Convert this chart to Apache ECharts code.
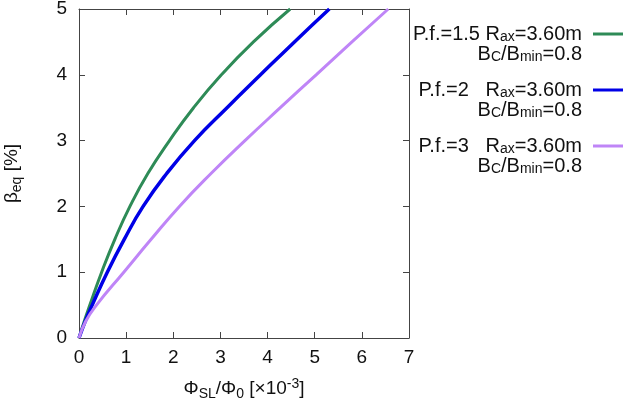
<!DOCTYPE html>
<html lang="en">
<head>
    <meta charset="UTF-8">
    <title>beta_eq vs flux</title>
    <script src="https://cdn.jsdelivr.net/npm/echarts@6/dist/echarts.min.js"></script>
    <style>
        html, body { margin: 0; padding: 0; background: #fff; }
    </style>
</head>
<body>
    <div id="main" style="width: 629px; height: 407px"></div>
    <script>
        // beta_eq [%] values where the curves were read
        var betaVals = [0, 0.25, 0.5, 1, 1.5, 2, 2.5, 3, 3.5, 4, 4.5, 5];
        // Phi_SL/Phi_0 [x1e-3] for each curve at those beta values
        var fluxPf15 = [0, 0.11, 0.23, 0.48, 0.76, 1.08, 1.46, 1.92, 2.43, 3.02, 3.70, 4.48];
        var fluxPf2  = [0, 0.13, 0.28, 0.60, 0.96, 1.36, 1.86, 2.45, 3.14, 3.85, 4.57, 5.31];
        var fluxPf3  = [0, 0.14, 0.37, 0.95, 1.53, 2.13, 2.80, 3.52, 4.27, 5.03, 5.79, 6.56];

        var pfNames = ['1.5', '2', '3'];
        var pfPad = ['1.5 ', '2   ', '3   '];
        var raxVal = '3.60m';
        var bRatio = '0.8';
        var colors = ['#2e8b57', '#0000e6', '#bf85f7'];
        var xTicks = [0, 1, 2, 3, 4, 5, 6, 7];
        var yTicks = [0, 1, 2, 3, 4, 5];

        var font = 'Liberation Sans, Arial, sans-serif';
        var mychart = echarts.init(document.getElementById('main'));

        function pairs(xs) {
            var d = [];
            for (var i = 0; i < xs.length; i++) d.push([xs[i], betaVals[i]]);
            return d;
        }

        var fluxSets = [fluxPf15, fluxPf2, fluxPf3];
        var series = fluxSets.map(function (xs, i) {
            return {
                name: 'P.f.=' + pfNames[i],
                type: 'line',
                data: pairs(xs),
                showSymbol: false,
                symbol: 'none',
                smooth: 0.5,
                lineStyle: { color: colors[i], width: i === 1 ? 3.5 : 3 },
                itemStyle: { color: colors[i] }
            };
        });

        var axisCol = '#444';
        function boxAxis(extra) {
            var a = {
                type: 'value',
                interval: 1,
                axisLine: { show: true, onZero: false, lineStyle: { color: axisCol, width: 1 } },
                axisTick: { show: true, inside: true, length: 6, lineStyle: { color: axisCol } },
                splitLine: { show: false },
                axisLabel: { color: '#111', fontSize: 19, fontFamily: font }
            };
            for (var k in extra) a[k] = extra[k];
            return a;
        }

        var legendIdx = {};
        pfNames.forEach(function (p, i) { legendIdx['P.f.=' + p] = i; });

        option = {
            animation: false,
            grid: { left: 79, right: 220, top: 9, bottom: 69, outerBoundsMode: 'none', containLabel: false },
            xAxis: [
                boxAxis({
                    min: xTicks[0], max: xTicks[xTicks.length - 1], position: 'bottom',
                    name: '{n|Φ}{s|SL}{n|/Φ}{s|0}{n| [×10}{p|-3}{n|]}',
                    nameLocation: 'middle', nameGap: 39,
                    nameTextStyle: {
                        rich: {
                            n: { fontSize: 19, fontFamily: font, color: '#111', lineHeight: 24 },
                            s: { fontSize: 14, fontFamily: font, color: '#111', verticalAlign: 'bottom', lineHeight: 24 },
                            p: { fontSize: 14, fontFamily: font, color: '#111', verticalAlign: 'top', lineHeight: 24 }
                        }
                    },
                    axisLabel: { color: '#111', fontSize: 19, fontFamily: font, margin: 10 }
                }),
                boxAxis({
                    min: xTicks[0], max: xTicks[xTicks.length - 1], position: 'top',
                    axisLabel: { show: false }
                })
            ],
            yAxis: [
                boxAxis({
                    min: yTicks[0], max: yTicks[yTicks.length - 1], position: 'left',
                    name: '{n|β}{s|eq}{n| [%]}',
                    nameLocation: 'middle', nameGap: 55, nameRotate: 90,
                    nameTextStyle: {
                        rich: {
                            n: { fontSize: 19, fontFamily: font, color: '#111', lineHeight: 24 },
                            s: { fontSize: 14, fontFamily: font, color: '#111', verticalAlign: 'bottom', lineHeight: 24 }
                        }
                    },
                    axisLabel: { color: '#111', fontSize: 19, fontFamily: font, margin: 12 }
                }),
                boxAxis({
                    min: yTicks[0], max: yTicks[yTicks.length - 1], position: 'right',
                    axisLabel: { show: false }
                })
            ],
            legend: {
                orient: 'vertical',
                right: 1,
                top: 19,
                align: 'right',
                itemGap: 16,
                icon: 'rect',
                itemWidth: 30,
                itemHeight: 3,
                selectedMode: false,
                formatter: function (name) {
                    var i = legendIdx[name];
                    return '{t|P.f.=' + pfPad[i] + 'R}{s|ax}{t|=' + raxVal + '}\n' +
                        '{u|B}{v|C}{u|/B}{v|min}{u|=' + bRatio + '}';
                },
                textStyle: {
                    padding: [20, 6, 0, 0],
                    rich: {
                        t: { fontSize: 20, fontFamily: font, color: '#111', lineHeight: 20 },
                        s: { fontSize: 14, fontFamily: font, color: '#111', lineHeight: 20, verticalAlign: 'bottom' },
                        u: { fontSize: 20, fontFamily: font, color: '#111', lineHeight: 20, align: 'right' },
                        v: { fontSize: 14, fontFamily: font, color: '#111', lineHeight: 20, verticalAlign: 'bottom', align: 'right' }
                    }
                },
                data: pfNames.map(function (p) { return 'P.f.=' + p; })
            },
            series: series
        };

        mychart.setOption(option);
    </script>
</body>
</html>
